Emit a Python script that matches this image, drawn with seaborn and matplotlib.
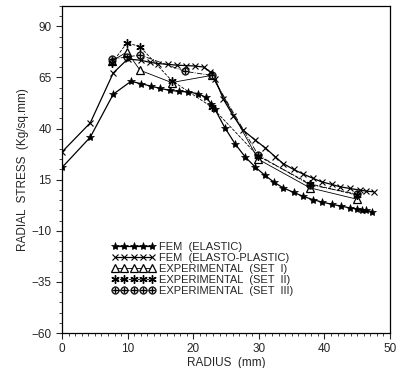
import matplotlib
matplotlib.use("Agg")
import matplotlib.pyplot as plt
from matplotlib.ticker import MultipleLocator
import seaborn as sns
import pandas as pd

# FEM (elastic)
fem_el_x = [0, 4.3, 7.8, 10.5, 12, 13.5, 15, 16.4, 17.8, 19.2, 20.7, 22, 22.7, 23.3, 24.8,
            26.4, 27.9, 29.4, 30.9, 32.3, 33.7, 35.3, 36.8, 38.2, 39.7, 41.1, 42.5, 43.9,
            44.9, 45.7, 46.4, 47.3]
fem_el_y = [21, 35.8, 56.8, 63.1, 62, 60.8, 59.6, 58.7, 58.2, 57.9, 57.1, 55.2, 52.2, 49.5,
            40.5, 32.4, 26.2, 21.3, 17.2, 13.8, 11, 8.8, 6.8, 5.3, 4.0, 3.0, 2.1, 1.2, 0.7,
            0.4, 0, -0.7]

# FEM (elasto-plastic)
fem_ep_x = [0, 4.3, 7.8, 10, 12, 13.4, 14.6, 16.2, 17.5, 18.9, 20.2, 21.6, 22.6, 23.3, 24.6,
            26.1, 27.6, 29.4, 31, 32.5, 33.7, 35.3, 36.8, 38.3, 39.6, 41.1, 42.4, 43.9, 45.4,
            46.4, 47.5]
fem_ep_y = [28.6, 42.8, 67.2, 74, 73.4, 72.4, 71.8, 71.4, 71, 70.8, 70.6, 70.1, 67.7, 64.4,
            54.3, 46.2, 39.2, 34.5, 30.5, 26.2, 22.9, 20, 17.7, 15.6, 13.9, 12.7, 11.5, 10.7,
            9.9, 9.4, 9.1]

# Experimental sets
set1_x = [7.6, 9.9, 11.9, 16.7, 22.8, 29.9, 37.8, 44.9]
set1_y = [73, 77.5, 68.5, 62.5, 66, 25, 11, 5.5]
set2_x = [7.6, 9.9, 11.9, 16.7, 22.8, 29.9, 37.8, 44.9]
set2_y = [72, 82, 80, 63.5, 50.6, 26.5, 13, 7.5]
set3_x = [7.6, 9.9, 11.9, 18.7, 22.8, 29.9, 37.8, 44.9]
set3_y = [74, 75, 76, 68, 66, 27, 12.5, 8]

labels = ["FEM  (ELASTIC)", "FEM  (ELASTO-PLASTIC)", "EXPERIMENTAL  (SET  I)",
          "EXPERIMENTAL  (SET  II)", "EXPERIMENTAL  (SET  III)"]

x_ticks = [0, 10, 20, 30, 40, 50]
y_ticks = [-60, -35, -10, 15, 40, 65, 90]

sns.set_style("ticks")
plt.rcParams['font.family'] = ['Liberation Sans', 'DejaVu Sans']

fig = plt.figure(figsize=(3.98, 3.68), dpi=100)
ax = fig.add_axes([0.156, 0.095, 0.824, 0.889])

series = [
    (fem_el_x, fem_el_y, labels[0], dict(marker='*', markersize=6, linestyle='-', linewidth=0.9,
                                          markerfacecolor='black', markeredgewidth=0.5)),
    (fem_ep_x, fem_ep_y, labels[1], dict(marker='x', markersize=4.5, linestyle='-', linewidth=0.9,
                                          markeredgewidth=0.8)),
    (set1_x, set1_y, labels[2], dict(marker='^', markersize=5.5, linestyle='-', linewidth=0.6,
                                      markerfacecolor='white', markeredgewidth=0.9)),
    (set2_x, set2_y, labels[3], dict(marker=(6, 2, 0), markersize=6, linestyle='--', linewidth=0.6,
                                      markeredgewidth=1.0)),
    (set3_x, set3_y, labels[4], dict(marker=r'$\oplus$', markersize=5.5, linestyle='-.', linewidth=0.6,
                                      markeredgewidth=0.3)),
]

for xs, ys, lab, kw in series:
    df = pd.DataFrame({"x": xs, "y": ys})
    sns.lineplot(data=df, x="x", y="y", ax=ax, color='black', sort=False, estimator=None,
                 label=lab, markeredgecolor='black', **kw)

ax.set_xlim(0, 50)
ax.set_ylim(-60, 100)
ax.set_xticks(x_ticks)
ax.set_yticks(y_ticks)
ax.xaxis.set_minor_locator(MultipleLocator(1))
ax.yaxis.set_minor_locator(MultipleLocator(5))
ax.tick_params(which='major', length=4, width=0.8, labelsize=8.5, direction='out')
ax.tick_params(which='minor', length=2.5, width=0.6, direction='out')
for s in ax.spines.values():
    s.set_visible(True)
    s.set_linewidth(0.9)
    s.set_color('black')

ax.set_xlabel("RADIUS  (mm)", fontsize=8.5, labelpad=1)
ax.set_ylabel("RADIAL  STRESS  (Kg/sq.mm)", fontsize=8.5, labelpad=2)

ax.legend(loc='upper left', bbox_to_anchor=(0.13, 0.30), frameon=False, fontsize=8,
          numpoints=5, handlelength=4.0, handletextpad=0.3, labelspacing=0.1,
          borderpad=0.1)

fig.savefig("out.png", dpi=100)
